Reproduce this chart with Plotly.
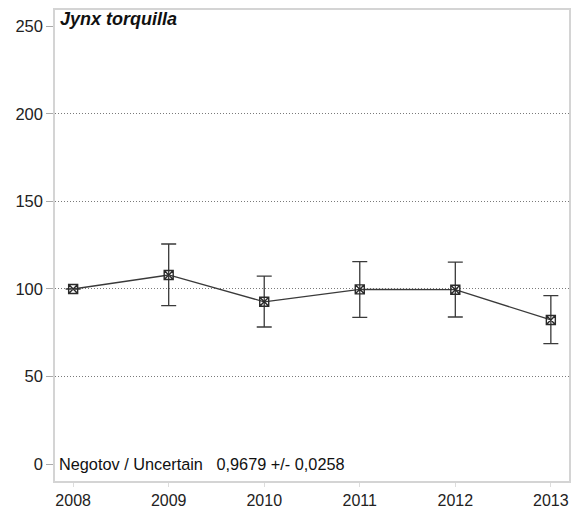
import plotly.graph_objects as go

years = [2008, 2009, 2010, 2011, 2012, 2013]
index_values = [100, 108, 92.7, 99.8, 99.6, 82.3]
upper = [100, 125.7, 107.4, 115.6, 115.3, 96.2]
lower = [100, 90.5, 78.3, 83.8, 84.0, 68.8]
y_ticks = [0, 50, 100, 150, 200, 250]
grid_vals = [50, 100, 150, 200]
species = "Jynx torquilla"
trend_text = "Negotov / Uncertain   0,9679 +/- 0,0258"

err_plus = [u - v for u, v in zip(upper, index_values)]
err_minus = [v - l for v, l in zip(index_values, lower)]

yrange = [-9.7, 259.4]
xrange = [2007.81, 2013.19]

fig = go.Figure()
fig.add_trace(go.Scatter(x=[years[0]], y=[index_values[0]], yaxis="y2",
                         mode="markers", marker=dict(opacity=0), hoverinfo="skip",
                         showlegend=False))
fig.add_trace(go.Scatter(
    x=years, y=index_values, mode="lines+markers",
    line=dict(color="#3a3a3a", width=1.3),
    marker=dict(symbol="square-x-open", size=9, color="#2a2a2a",
                line=dict(width=1.4, color="#2a2a2a")),
    error_y=dict(type="data", symmetric=False, array=err_plus, arrayminus=err_minus,
                 color="#3a3a3a", thickness=1.3, width=7.5),
    showlegend=False,
))

fig.update_layout(
    width=574, height=510,
    margin=dict(l=55, r=5, t=10, b=29, autoexpand=False),
    paper_bgcolor="white", plot_bgcolor="white",
    font=dict(family="Liberation Sans, Arial, sans-serif", size=16, color="#222"),
    xaxis=dict(range=xrange, tickvals=years, ticktext=[str(y) for y in years],
               showgrid=False, zeroline=False, automargin=False,
               showline=True, mirror=True, linecolor="#d4d4d4", linewidth=1.5,
               ticks="outside", ticklen=4, tickcolor="#dddddd",
               ticklabelstandoff=0,
               tickfont=dict(size=16, color="#222")),
    yaxis=dict(range=yrange, tickvals=y_ticks, showgrid=False, zeroline=False,
               automargin=False,
               showline=True, mirror=True, linecolor="#d4d4d4", linewidth=1.5,
               ticks="outside", ticklen=7, tickcolor="#aaaaaa",
               tickfont=dict(size=16.5, color="#222")),
    yaxis2=dict(range=yrange, overlaying="y", tickvals=grid_vals, showticklabels=False,
                showgrid=True, gridcolor="#7a7a7a", griddash="1px,2px", gridwidth=1,
                zeroline=False, showline=False, ticks="", automargin=False),
    annotations=[
        dict(text="<b><i>" + species + "</i></b>", xref="paper", yref="paper",
             x=0.006, y=0.981, xanchor="left", yanchor="middle", showarrow=False,
             font=dict(size=18, color="#111")),
        dict(text=trend_text, xref="paper", yref="paper",
             x=0.004, y=0.036, xanchor="left", yanchor="middle", showarrow=False,
             font=dict(size=16.3, color="#111")),
    ],
)

fig.write_html("out.html", config={"displayModeBar": False},
               post_script="document.body.style.margin='0';document.body.style.overflow='hidden';")
